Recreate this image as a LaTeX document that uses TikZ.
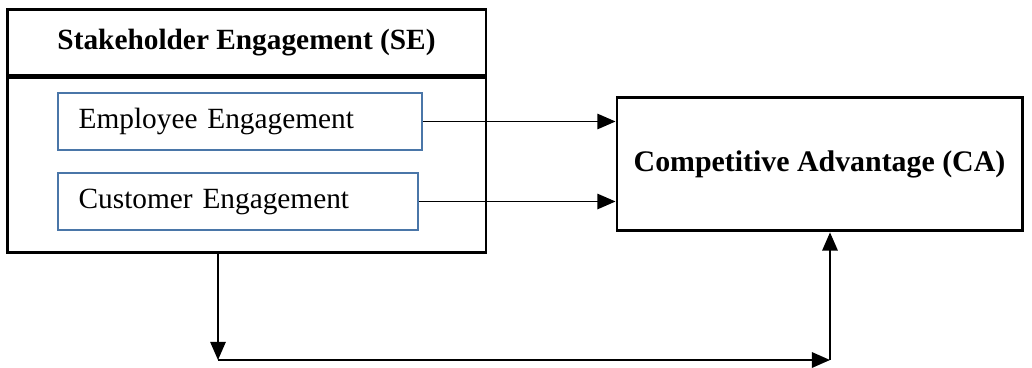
\documentclass[tikz,border=0pt]{standalone}
\usepackage{fontspec}
\setmainfont{Liberation Serif}
\usetikzlibrary{arrows.meta,positioning}
\definecolor{FrameBlue}{HTML}{4A76A8}

\begin{document}
\begin{tikzpicture}[
    x=0.375pt, y=-0.375pt,
    outer/.style={
      draw=black,
      line width=1.1pt,
      minimum width=179.6pt,
      inner sep=0pt
    },
    itembox/.style={
      draw=FrameBlue,
      line width=0.8pt,
      minimum height=21.4pt,
      inner xsep=7.9pt,
      text width=121pt,
      align=left,
      font=\fontsize{11}{13}\selectfont
    },
    target/.style={
      draw=black,
      line width=1.1pt,
      minimum width=151.9pt,
      minimum height=50.2pt,
      align=center,
      font=\fontsize{11.2}{13}\selectfont\bfseries
    },
    flow/.style={-{Triangle[length=6.8pt,width=5.8pt]}, line width=0.5pt}
  ]
    \useasboundingbox (0,0) rectangle (1032,367);

    % stakeholder block: header and body
    \node[outer, minimum height=24.4pt, font=\fontsize{11}{13}\selectfont\bfseries]
      (sehead) at (246.5,42.5) {Stakeholder Engagement (SE)};
    \node[outer, minimum height=65.6pt, below=0pt of sehead] (sebody) {};
    \node[itembox] (employee) at (240,121.5) {Employee Engagement};
    \node[itembox, text width=119.5pt] (customer) at (238,201.5) {Customer Engagement};

    \node[target] (ca) at (819.5,164) {Competitive Advantage (CA)};

    \coordinate (turnL) at (218,360);
    \coordinate (turnR) at (830,360);

    \draw[flow] (employee.east) -- (employee.east -| ca.west);
    \draw[flow] (customer.east) -- (customer.east -| ca.west);
    \draw[flow] (sebody.south -| turnL) -- (turnL);
    \draw[flow, line width=0.7pt] (turnL) -- (turnR);
    \draw[flow] (turnR) -- (ca.south -| turnR);
  \end{tikzpicture}
\end{document}
